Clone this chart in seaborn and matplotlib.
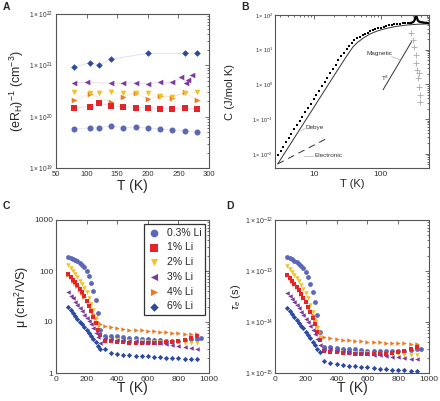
import numpy as np
import pandas as pd
import matplotlib
matplotlib.use("Agg")
import matplotlib.pyplot as plt
import matplotlib.ticker as mticker
import seaborn as sns

# ---------------- data ----------------
SERIES = ["0.3% Li", "1% Li", "2% Li", "3% Li", "4% Li", "6% Li"]
COLORS = ["#5b68b8", "#e5232b", "#f3c11f", "#7b3b9c", "#ee7a25", "#2c4a9e"]
MARKERS = ["o", "s", "v", "<", ">", "D"]

# Panel A : (eR_H)^-1 vs T
A_T_circ = [80, 105, 120, 140, 160, 180, 200, 220, 240, 260, 280]
A_circ = [5.8e19, 6.0e19, 6.1e19, 6.6e19, 6.1e19, 6.2e19, 6.1e19, 5.7e19, 5.5e19, 5.3e19, 5.06e19]
A_T_sq = [80, 105, 120, 140, 160, 180, 200, 220, 240, 260, 280]
A_sq = [1.50e20, 1.57e20, 1.85e20, 1.62e20, 1.57e20, 1.50e20, 1.50e20, 1.42e20, 1.42e20, 1.50e20, 1.42e20]
A_T_yel = [80, 105, 120, 140, 160, 180, 200, 220, 240, 260, 280]
A_yel = [3.08e20, 2.9e20, 2.86e20, 3.08e20, 2.86e20, 2.9e20, 2.86e20, 2.54e20, 2.4e20, 2.95e20, 3.0e20]
A_T_pur = [80, 100, 140, 160, 180, 200, 220, 240, 255, 262, 266, 272]
A_pur = [4.6e20, 4.65e20, 4.5e20, 4.5e20, 4.6e20, 4.3e20, 4.65e20, 4.65e20, 5.8e20, 4.6e20, 5.2e20, 6.4e20]
A_T_ora = [80, 105, 140, 160, 180, 200, 220, 240, 260, 280]
A_ora = [2.12e20, 2.75e20, 1.97e20, 2.46e20, 2.86e20, 2.22e20, 2.54e20, 2.36e20, 3.0e20, 2.12e20]
A_T_dia = [80, 105, 120, 140, 200, 260, 280]
A_dia = [9.2e20, 1.13e21, 1.02e21, 1.31e21, 1.72e21, 1.72e21, 1.75e21]

# Panel B : heat capacity
B_dots_T = [2.8, 3.1, 3.4, 3.75, 4.1, 4.5, 5.0, 5.5, 6.0, 6.6, 7.3, 8.0, 8.8, 9.7, 10.7, 11.7,
            12.9, 14.2, 15.6, 17.2, 18.9, 20.8, 22.9, 25.2, 27.7, 30.5, 33.5, 36.5, 40, 44, 48,
            53, 58, 63, 69, 76, 83, 91, 100, 110, 121, 133, 146, 160, 176, 193, 212, 233, 256, 280]
B_dots_C = [0.0090, 0.0122, 0.0161, 0.0216, 0.0283, 0.0374, 0.0512, 0.0682, 0.0886, 0.118, 0.160,
            0.210, 0.279, 0.374, 0.502, 0.657, 0.88, 1.17, 1.56, 2.09, 2.77, 3.69, 4.9, 6.4, 8.3,
            10.6, 13.2, 16.0, 19.0, 21.5, 24.0, 26.5, 29.0, 31.0, 33.5, 36.0, 38.5, 41.0, 43.5,
            46.0, 48.0, 50.0, 52.0, 54.0, 55.5, 56.5, 57.5, 58.5, 59.5, 60.5]
B_peak_T = [272, 290, 305, 315, 325, 332, 337, 340, 348, 360, 380, 410, 450, 500, 531]
B_peak_C = [58, 60, 62, 66, 74, 88, 105, 110, 85, 70, 64, 62, 60, 59, 58]
B_debye_T = [2.8, 10, 20, 30, 38, 45, 55, 70, 90, 120, 170, 250, 350, 531]
B_debye_C = [0.0051, 0.232, 1.86, 6.2, 12.0, 16.5, 22, 29, 35, 41, 47, 51.5, 54, 55.5]
B_elec_T = [2.8, 15]
B_elec_C = [0.0051, 0.027]
B_mag_T = [108, 290]
B_mag_C = [0.7, 17]
B_plus_T = [288, 305, 318, 343, 343, 352, 363, 380, 389, 394, 372]
B_plus_C = [29.7, 19, 12, 7.1, 4.1, 2.6, 1.5, 0.87, 0.5, 0.32, 2.2]

# Panel C / D : mobility and relaxation time vs T
T_LOW = [80, 95, 110, 125, 140, 155, 170, 185, 200, 215, 230, 245, 260, 275, 290]
T_HIGH = [320, 360, 400, 440, 480, 520, 560, 600, 640, 680, 720, 760, 800, 840, 880, 920]
T_CIRC_EXTRA = [950]

C_low = {
    "0.3% Li": [190, 183, 175, 165, 155, 145, 132, 118, 100, 80, 58, 40, 27, 15, 7],
    "1% Li": [88, 78, 68, 60, 52, 45, 38, 32, 26, 21, 16.5, 12.5, 9.5, 7, 5.5],
    "2% Li": [130, 115, 100, 88, 76, 65, 55, 46, 38, 30, 23, 17, 12, 8, 5.5],
    "3% Li": [38, 33, 29, 25, 22, 19, 16.5, 14, 12, 10.5, 9, 7.5, 6.2, 5, 3.8],
    "4% Li": [85, 75, 65, 57, 50, 43, 37, 31, 26, 22, 18, 14.5, 12, 10, 9],
    "6% Li": [20, 17, 15, 13, 11.5, 10, 9, 8, 7, 6.2, 5.4, 4.7, 4.1, 3.4, 3.0],
}
C_high = {
    "0.3% Li": [5.4, 5.3, 5.2, 5.0, 4.9, 4.8, 4.7, 4.6, 4.5, 4.4, 4.3, 4.3, 4.3, 4.4, 4.6, 4.7],
    "1% Li": [4.3, 4.2, 4.1, 4.0, 3.9, 3.9, 3.9, 3.9, 3.9, 3.9, 4.0, 4.1, 4.3, 4.5, 4.8, 5.4],
    "2% Li": [4.6, 4.5, 4.4, 4.3, 4.3, 4.2, 4.2, 4.1, 4.1, 4.1, 4.0, 4.0, 4.0, 3.9, 3.9, 3.8],
    "3% Li": [4.8, 4.6, 4.5, 4.4, 4.3, 4.2, 4.1, 4.0, 3.9, 3.8, 3.7, 3.5, 3.4, 3.2, 3.1, 3.0],
    "4% Li": [8.5, 8.0, 7.6, 7.3, 7.1, 7.0, 6.9, 6.8, 6.7, 6.5, 6.4, 6.2, 6.0, 5.9, 5.8, 5.7],
    "6% Li": [2.9, 2.5, 2.4, 2.3, 2.25, 2.2, 2.2, 2.15, 2.1, 2.05, 2.0, 2.0, 1.95, 1.9, 1.9, 1.85],
}
C_circ_extra = [4.9]

TAU_UNIT = 1e-15  # values below are in units of 1e-15 s
D_low = {
    "0.3% Li": [185, 178, 170, 160, 150, 140, 128, 113, 96, 77, 56, 38, 25, 14, 6.5],
    "1% Li": [82, 73, 64, 56, 49, 42, 36, 30, 25, 20, 16, 12, 9, 6.5, 4.5],
    "2% Li": [125, 110, 97, 85, 74, 64, 54, 45, 37, 29, 22, 16, 11, 7.5, 5],
    "3% Li": [37, 32, 28, 24.5, 21.5, 18.5, 16, 13.5, 11.5, 10, 8.5, 7, 5.8, 4.6, 3.5],
    "4% Li": [83, 73, 63, 55, 48, 42, 36, 30, 25.5, 21, 17, 14, 11, 8.5, 6.5],
    "6% Li": [19, 16.5, 14.5, 12.5, 11, 9.7, 8.5, 7.5, 6.5, 5.6, 4.8, 4.1, 3.5, 3.0, 2.6],
}
D_high = {
    "0.3% Li": [3.3, 3.2, 3.1, 3.0, 2.95, 2.9, 2.8, 2.7, 2.65, 2.65, 2.65, 2.65, 2.7, 2.75, 2.85, 2.95],
    "1% Li": [2.7, 2.6, 2.55, 2.5, 2.45, 2.4, 2.35, 2.35, 2.35, 2.35, 2.4, 2.45, 2.55, 2.7, 2.9, 3.3],
    "2% Li": [2.7, 2.65, 2.6, 2.55, 2.5, 2.5, 2.45, 2.45, 2.4, 2.4, 2.4, 2.35, 2.35, 2.3, 2.3, 2.25],
    "3% Li": [3.0, 2.9, 2.8, 2.7, 2.6, 2.5, 2.45, 2.4, 2.3, 2.25, 2.2, 2.1, 2.05, 1.95, 1.9, 1.85],
    "4% Li": [5.0, 4.8, 4.6, 4.5, 4.4, 4.3, 4.2, 4.1, 4.05, 4.0, 3.95, 3.9, 3.85, 3.8, 3.75, 3.7],
    "6% Li": [1.7, 1.55, 1.5, 1.45, 1.4, 1.35, 1.3, 1.3, 1.25, 1.2, 1.2, 1.15, 1.15, 1.12, 1.1, 1.1],
}
D_circ_extra = [3.0]

# ---------------- style ----------------
sns.set_style("white")
plt.rcParams["font.family"] = ["Liberation Sans", "DejaVu Sans"]
plt.rcParams["mathtext.fontset"] = "custom"
plt.rcParams["mathtext.rm"] = "Liberation Sans"
plt.rcParams["mathtext.it"] = "Liberation Sans:italic"
plt.rcParams["mathtext.bf"] = "Liberation Sans:bold"

SPINE = "#555555"
fig = plt.figure(figsize=(4.4, 4.01), dpi=100)
W, H = 440.0, 401.0
axA = fig.add_axes([56 / W, 1 - 168 / H, 153 / W, 154 / H])
axB = fig.add_axes([275 / W, 1 - 168 / H, 154 / W, 153 / H])
axC = fig.add_axes([56 / W, 1 - 373 / H, 153 / W, 153 / H])
axD = fig.add_axes([275 / W, 1 - 373 / H, 154 / W, 153 / H])


def sci(v, pos):
    if v <= 0:
        return ""
    e = int(np.round(np.log10(v)))
    return r"$1\times10^{%d}$" % e


def style_axes(ax, labelsize=5.5):
    for s in ax.spines.values():
        s.set_color(SPINE)
        s.set_linewidth(0.8)
    ax.tick_params(which="both", direction="in", top=True, right=True,
                   labelsize=labelsize, colors="#333333", width=0.5, pad=2)
    ax.tick_params(which="major", length=3)
    ax.tick_params(which="minor", length=1.5)


SIZES = {"o": 15, "s": 16, "v": 13, "<": 13, ">": 13, "D": 9}

# ---------------- Panel A ----------------
A_sets = [(A_T_circ, A_circ), (A_T_sq, A_sq), (A_T_yel, A_yel),
          (A_T_pur, A_pur), (A_T_ora, A_ora), (A_T_dia, A_dia)]
for (tx, vy), col, mk in zip(A_sets, COLORS, MARKERS):
    sns.lineplot(x=tx, y=vy, ax=axA, color=col, alpha=0.18, lw=0.6, sort=False)
draw_order_A = [4, 2, 0, 1, 3, 5]
for i in draw_order_A:
    tx, vy = A_sets[i]
    sns.scatterplot(x=tx, y=vy, ax=axA, color=COLORS[i], marker=MARKERS[i],
                    s=SIZES[MARKERS[i]] * 1.25, linewidth=0, zorder=3)
axA.set_yscale("log")
axA.set_xlim(50, 300)
axA.set_ylim(1e19, 1e22)
axA.set_xticks([50, 100, 150, 200, 250, 300])
axA.yaxis.set_major_locator(mticker.LogLocator(base=10, numticks=10))
axA.yaxis.set_major_formatter(mticker.FuncFormatter(sci))
axA.yaxis.set_minor_formatter(mticker.NullFormatter())
style_axes(axA, 5.5)
axA.tick_params(axis="y", labelsize=4.8)
axA.set_xlabel("T (K)", fontsize=10, labelpad=1)
axA.set_ylabel(r"$(\mathrm{eR_H})^{-1}$ (cm$^{-3}$)", fontsize=9, labelpad=2)

# ---------------- Panel B ----------------
sns.lineplot(x=B_debye_T, y=B_debye_C, ax=axB, color="#333333", lw=0.7, sort=False)
sns.lineplot(x=B_elec_T, y=B_elec_C, ax=axB, color="#333333", lw=0.7, sort=False,
             dashes=False, linestyle=(0, (7, 5)))
sns.lineplot(x=B_mag_T, y=B_mag_C, ax=axB, color="#333333", lw=0.7, sort=False)
sns.lineplot(x=B_peak_T, y=B_peak_C, ax=axB, color="black", lw=1.6, sort=False)
sns.scatterplot(x=B_dots_T, y=B_dots_C, ax=axB, color="black", marker="s", s=3.5,
                linewidth=0, zorder=3)
sns.scatterplot(x=B_plus_T, y=B_plus_C, ax=axB, color="#aaaaaa", marker="+", s=14,
                linewidth=0.6, zorder=2)
axB.set_xscale("log")
axB.set_yscale("log")
axB.set_xlim(2.55, 531)
axB.set_ylim(0.0039, 100)
axB.xaxis.set_major_locator(mticker.FixedLocator([10, 100]))
axB.xaxis.set_major_formatter(mticker.FixedFormatter(["10", "100"]))
axB.xaxis.set_minor_locator(mticker.LogLocator(base=10, subs=np.arange(2, 10), numticks=20))
axB.xaxis.set_minor_formatter(mticker.NullFormatter())
axB.yaxis.set_major_locator(mticker.LogLocator(base=10, numticks=10))
axB.yaxis.set_major_formatter(mticker.FuncFormatter(sci))
axB.yaxis.set_minor_locator(mticker.LogLocator(base=10, subs=np.arange(2, 10), numticks=20))
axB.yaxis.set_minor_formatter(mticker.NullFormatter())
style_axes(axB, 6)
axB.tick_params(axis="y", labelsize=4.0, pad=1.5)
axB.set_xlabel("T (K)", fontsize=8, labelpad=1)
axB.set_ylabel("C (J/mol K)", fontsize=8)
axB.yaxis.set_label_coords(-0.26, 0.5)
txt = dict(fontsize=4.6, color="#333333")
axB.text(7.3, 0.058, "Debye", ha="left", va="center", **txt)
axB.text(10.0, 0.0089, "Electronic", ha="left", va="center", **txt)
axB.text(94, 7.9, "Magnetic", ha="center", va="center", **txt)
axB.text(118, 1.5, r"T$^3$", ha="center", va="center", **txt)
lead = dict(color="#bbbbbb", lw=0.6)
axB.plot([6.2, 7.1], [0.045, 0.054], **lead)
axB.plot([7.0, 9.6], [0.0089, 0.0089], **lead)
axB.plot([145, 193], [6.3, 5.1], **lead)

# ---------------- Panels C, D ----------------
draw_order = [0, 4, 2, 1, 3, 5]


def plot_cd(ax, low, high, extra, scale):
    for i in draw_order:
        name = SERIES[i]
        tx = list(T_LOW) + list(T_HIGH)
        vy = list(low[name]) + list(high[name])
        if name == "0.3% Li":
            tx = tx + list(T_CIRC_EXTRA)
            vy = vy + list(extra)
        df = pd.DataFrame({"T": tx, "v": np.array(vy) * scale})
        sns.scatterplot(data=df, x="T", y="v", ax=ax, color=COLORS[i], marker=MARKERS[i],
                        s=SIZES[MARKERS[i]] * 0.8, linewidth=0, label=name, zorder=3)
    ax.set_yscale("log")
    ax.set_xlim(0, 1000)
    ax.set_xticks([0, 200, 400, 600, 800, 1000])
    ax.yaxis.set_minor_formatter(mticker.NullFormatter())


plot_cd(axC, C_low, C_high, C_circ_extra, 1.0)
axC.set_ylim(1, 1000)
axC.yaxis.set_major_locator(mticker.FixedLocator([1, 10, 100, 1000]))
axC.yaxis.set_major_formatter(mticker.FixedFormatter(["1", "10", "100", "1000"]))
style_axes(axC, 6)
axC.set_xlabel("T (K)", fontsize=10, labelpad=-1)
axC.set_ylabel(r"μ (cm$^2$/VS)", fontsize=9, labelpad=2)
handles, labels = axC.get_legend_handles_labels()
order = [labels.index(s) for s in SERIES]
leg = axC.legend([handles[k] for k in order], [labels[k] for k in order],
                 loc="upper right", fontsize=7.5, frameon=True, fancybox=False,
                 edgecolor="black", markerscale=1.6, handletextpad=0.6,
                 labelspacing=0.45, borderpad=0.4, borderaxespad=0.35, handlelength=1.2)
leg.get_frame().set_linewidth(0.9)

plot_cd(axD, D_low, D_high, D_circ_extra, TAU_UNIT)
axD.get_legend().remove()
axD.set_ylim(1e-15, 1e-12)
axD.yaxis.set_major_locator(mticker.LogLocator(base=10, numticks=10))
axD.yaxis.set_major_formatter(mticker.FuncFormatter(sci))
style_axes(axD, 6)
axD.tick_params(axis="y", labelsize=5.0, pad=1.5)
axD.set_xlabel("T (K)", fontsize=10, labelpad=-1)
axD.set_ylabel(r"$\tau_e$ (s)", fontsize=8, labelpad=1)

# panel letters
fig.text(3 / W, 1 - 2 / H, "A", fontsize=7.5, fontweight="bold", va="top", ha="left")
fig.text(241 / W, 1 - 2 / H, "B", fontsize=7.5, fontweight="bold", va="top", ha="left")
fig.text(3 / W, 1 - 201 / H, "C", fontsize=7.5, fontweight="bold", va="top", ha="left")
fig.text(226 / W, 1 - 201 / H, "D", fontsize=7.5, fontweight="bold", va="top", ha="left")

fig.savefig("out.png", dpi=100)
